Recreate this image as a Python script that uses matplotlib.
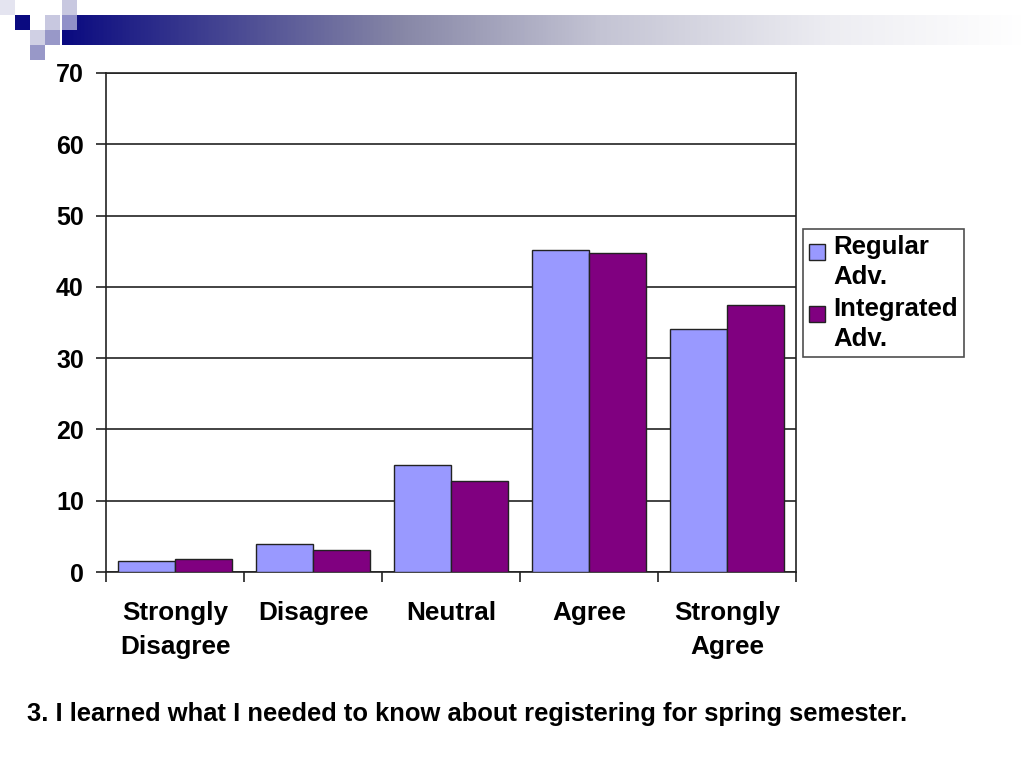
import matplotlib
matplotlib.use("Agg")
import matplotlib.pyplot as plt
import numpy as np
from matplotlib.patches import Rectangle
from matplotlib.ticker import FixedLocator, NullFormatter
from matplotlib.colors import LinearSegmentedColormap
from matplotlib.legend_handler import HandlerPatch
from matplotlib.container import BarContainer

plt.rcParams['font.family'] = ['Liberation Sans', 'DejaVu Sans']

categories = ["Strongly\nDisagree", "Disagree", "Neutral", "Agree", "Strongly\nAgree"]
regular = [1.6, 3.9, 15.0, 45.2, 34.1]
integrated = [1.8, 3.1, 12.8, 44.7, 37.4]
series_names = ["Regular\nAdv.", "Integrated\nAdv."]
caption = "3. I learned what I needed to know about registering for spring semester."

fig = plt.figure(figsize=(10.24, 7.68), dpi=100)

# decorative header
W, H = 1024, 768
def px_rect(x0, y0, w, h, color):
    fig.patches.append(Rectangle((x0 / W, 1 - (y0 + h) / H), w / W, h / H,
                                 transform=fig.transFigure, color=color, zorder=0, lw=0))
grad = np.linspace(0, 1, 512).reshape(1, -1)
gax = fig.add_axes([62 / W, 1 - 45 / H, (W - 62) / W, 30 / H])
cmap = LinearSegmentedColormap.from_list(
    "g", [(0.0, "#0a0a80"), (0.35, "#8686a6"), (0.56, "#c4c4d4"), (0.8, "#ededf2"), (1.0, "#ffffff")])
gax.imshow(grad, aspect="auto", cmap=cmap, extent=[0, 1, 0, 1])
gax.axis("off")
px_rect(0, 0, 15, 15, "#e4e4f0")
px_rect(15, 15, 15, 15, "#0a0a80")
px_rect(45, 15, 15, 15, "#c8c8e0")
px_rect(62, 0, 15, 15, "#c8c8e0")
px_rect(62, 15, 15, 15, "#9090c8")
px_rect(30, 30, 15, 15, "#d0d0e4")
px_rect(45, 30, 15, 15, "#9898c8")
px_rect(30, 45, 15, 15, "#9898c8")

ax = fig.add_axes([106 / W, 1 - 572 / H, 690 / W, 499 / H])
x = np.arange(len(categories))
w = 0.415
b1 = ax.bar(x - w / 2, regular, w, color="#9999ff", edgecolor="#222222", linewidth=1, label=series_names[0], zorder=3)
b2 = ax.bar(x + w / 2, integrated, w, color="#800080", edgecolor="#222222", linewidth=1, label=series_names[1], zorder=3)

ax.set_xlim(-0.5, len(categories) - 0.5)
ax.set_ylim(0, 70)
ax.set_yticks(np.arange(0, 71, 10))
ax.yaxis.grid(True, color="#222222", linewidth=1.2, zorder=0)
ax.set_xticks(x)
ax.set_xticklabels(categories, fontsize=18.8, fontweight="bold", linespacing=1.5)
ax.tick_params(axis="x", which="major", length=0, pad=21)
ax.xaxis.set_minor_locator(FixedLocator(np.arange(-0.5, len(categories), 1.0)))
ax.xaxis.set_minor_formatter(NullFormatter())
ax.tick_params(axis="x", which="minor", length=7, width=1.2, direction="out", color="#222222")
ax.tick_params(axis="y", length=7, width=1.2, color="#222222", labelsize=18, pad=9)
for lbl in ax.get_yticklabels():
    lbl.set_fontweight("bold")
for s in ax.spines.values():
    s.set_color("#222222")
    s.set_linewidth(1.2)


def top_square(legend, orig_handle, xdescent, ydescent, width, height, fontsize):
    s = width
    return Rectangle((-xdescent, -ydescent + height - s - 0.02 * fontsize), s, s)


def first_child(legend_handle, orig_handle):
    legend_handle.update_from(orig_handle.patches[0])


leg = fig.legend(handles=[b1, b2], labels=series_names,
                 loc="upper left", bbox_to_anchor=(803 / W, 1 - 229 / H),
                 prop={"size": 18.5, "weight": "bold"}, frameon=True, fancybox=False,
                 handlelength=0.62, handleheight=2.0, handletextpad=0.3,
                 borderpad=0.25, labelspacing=0.3, borderaxespad=0,
                 handler_map={BarContainer: HandlerPatch(patch_func=top_square, update_func=first_child)})
for t in leg.get_texts():
    t.set_linespacing(1.3)
leg.get_frame().set_edgecolor("#222222")
leg.get_frame().set_linewidth(1.2)

fig.text(27 / W, 1 - 714 / H, caption, fontsize=18.4, fontweight="bold", va="center", ha="left")

fig.savefig("out.png", dpi=100)
